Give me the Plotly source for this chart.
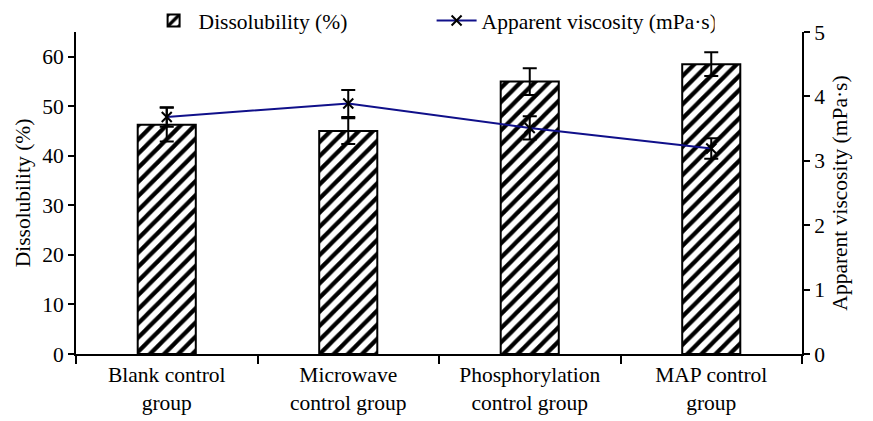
import plotly.graph_objects as go

categories = ["Blank control<br>group", "Microwave<br>control group",
              "Phosphorylation<br>control group", "MAP control<br>group"]
dissolubility = [46.3, 45.0, 55.0, 58.5]
dissolubility_err = [3.4, 2.6, 2.7, 2.4]
viscosity = [3.68, 3.89, 3.51, 3.19]
viscosity_err = [0.15, 0.21, 0.18, 0.16]

FONT = "Palatino Linotype, Book Antiqua, Palatino, Liberation Serif, serif"
FS = 21.5

fig = go.Figure()
fig.add_trace(go.Bar(
    x=categories, y=dissolubility, name="Dissolubility (%)",
    width=0.32,
    marker=dict(color="white", line=dict(color="black", width=2),
                pattern=dict(shape="/", fgcolor="black", bgcolor="white",
                             fgopacity=1, size=10, solidity=0.42)),
    error_y=dict(type="data", array=dissolubility_err, color="black",
                 thickness=2, width=7),
))
fig.add_trace(go.Scatter(
    x=categories, y=viscosity, name="Apparent viscosity (mPa·s)",
    yaxis="y2", mode="lines+markers",
    line=dict(color="#10108a", width=2),
    marker=dict(symbol="x-thin", size=10, color="black",
                line=dict(color="black", width=2)),
    error_y=dict(type="data", array=viscosity_err, color="black",
                 thickness=2, width=7),
))

fig.update_layout(
    width=873, height=421,
    margin=dict(l=76, r=71, t=32, b=67, autoexpand=False),
    paper_bgcolor="white", plot_bgcolor="white",
    font=dict(family=FONT, size=FS, color="black"),
    showlegend=True,
    legend=dict(orientation="h", x=0.10, xanchor="left",
                yref="container", y=1.0, yanchor="top",
                font=dict(size=FS), itemwidth=40,
                entrywidth=228, entrywidthmode="pixels",
                tracegroupgap=0, bgcolor="rgba(0,0,0,0)"),
    xaxis=dict(showline=True, linecolor="black", linewidth=2,
               ticks="outside", tickson="boundaries", ticklen=8,
               tickwidth=2, tickcolor="black", showgrid=False,
               automargin=False, tickfont=dict(size=FS)),
    yaxis=dict(range=[0, 65], tickvals=[0, 10, 20, 30, 40, 50, 60],
               showline=True, linecolor="black", linewidth=2,
               ticks="outside", ticklen=6, tickwidth=2, tickcolor="black",
               showgrid=False, zeroline=False, automargin=False,
               title=dict(text="Dissolubility (%)", standoff=6,
                          font=dict(size=FS))),
    yaxis2=dict(range=[0, 5], tickvals=[0, 1, 2, 3, 4, 5],
                overlaying="y", side="right",
                showline=True, linecolor="black", linewidth=2,
                ticks="outside", ticklen=6, tickwidth=2, tickcolor="black",
                showgrid=False, zeroline=False, automargin=False,
                title=dict(text="Apparent viscosity (mPa·s)", standoff=8,
                           font=dict(size=FS))),
)

fig.write_html("out.html")
